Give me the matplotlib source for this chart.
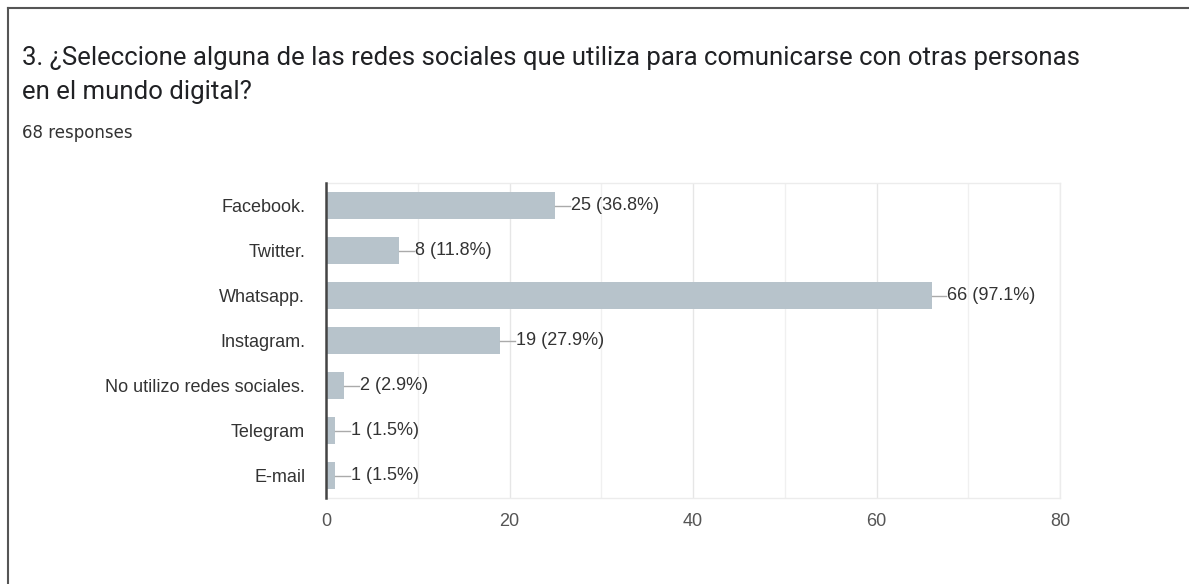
import matplotlib.pyplot as plt
from matplotlib.lines import Line2D

# Datos de la encuesta
categorias = ['Facebook.', 'Twitter.', 'Whatsapp.', 'Instagram.',
              'No utilizo redes sociales.', 'Telegram', 'E-mail']
respuestas = [25, 8, 66, 19, 2, 1, 1]
porcentajes = ['36.8%', '11.8%', '97.1%', '27.9%', '2.9%', '1.5%', '1.5%']
ticks_x = [0, 20, 40, 60, 80]

titulo = ('3. ¿Seleccione alguna de las redes sociales que utiliza para comunicarse con otras personas\n'
          'en el mundo digital?')
subtitulo = '68 responses'

fig = plt.figure(figsize=(11.89, 5.84), dpi=100)

# Marco de la tarjeta (solo arriba e izquierda, el resto queda fuera)
fig.add_artist(Line2D([8 / 1189, 1], [1 - 8 / 584, 1 - 8 / 584], color='#555555', lw=1.5,
                      transform=fig.transFigure))
fig.add_artist(Line2D([8 / 1189, 8 / 1189], [0, 1 - 8 / 584], color='#555555', lw=1.5,
                      transform=fig.transFigure))

fig.text(22 / 1189, 1 - 46 / 584, titulo, fontsize=18.5, family='Roboto', color='#202124',
         va='top', ha='left', linespacing=1.55)
fig.text(22 / 1189, 1 - 133 / 584, subtitulo, fontsize=12, family='DejaVu Sans', color='#333333',
         va='center', ha='left')

ax = fig.add_axes([326 / 1189, 1 - 498 / 584, (1060 - 326) / 1189, (498 - 183) / 584])

pos = list(range(len(categorias)))
ax.barh(pos, respuestas, height=0.6, color='#b7c3cb', zorder=2)

for i, (v, p) in enumerate(zip(respuestas, porcentajes)):
    ax.plot([v, v + 1.6], [i, i], color='#aaaaaa', lw=1, zorder=3)
    ax.text(v + 1.7, i, f'{v} ({p})', va='center', ha='left', fontsize=13,
            family='Liberation Sans', color='#333333')

ax.set_xlim(0, 80)
ax.set_ylim(len(categorias) - 0.5, -0.5)
ax.set_yticks(pos)
ax.set_yticklabels(categorias, family='Liberation Sans', fontsize=13, color='#333333')
ax.set_xticks(ticks_x)
ax.set_xticklabels([str(t) for t in ticks_x], family='Liberation Sans', fontsize=13, color='#555555')
ax.set_xticks(range(10, 80, 20), minor=True)
ax.tick_params(axis='both', which='both', length=0)
ax.tick_params(axis='y', pad=15)
ax.tick_params(axis='x', pad=11)

ax.grid(True, axis='x', which='major', color='#e6e6e6', lw=1, zorder=0)
ax.grid(True, axis='x', which='minor', color='#f0f0f0', lw=1, zorder=0)

for lado in ['top', 'right', 'bottom']:
    ax.spines[lado].set_color('#ececec')
    ax.spines[lado].set_linewidth(1)
ax.spines['left'].set_color('#444444')
ax.spines['left'].set_linewidth(1.8)
ax.spines['left'].set_zorder(4)

fig.savefig('out.png', dpi=100)
